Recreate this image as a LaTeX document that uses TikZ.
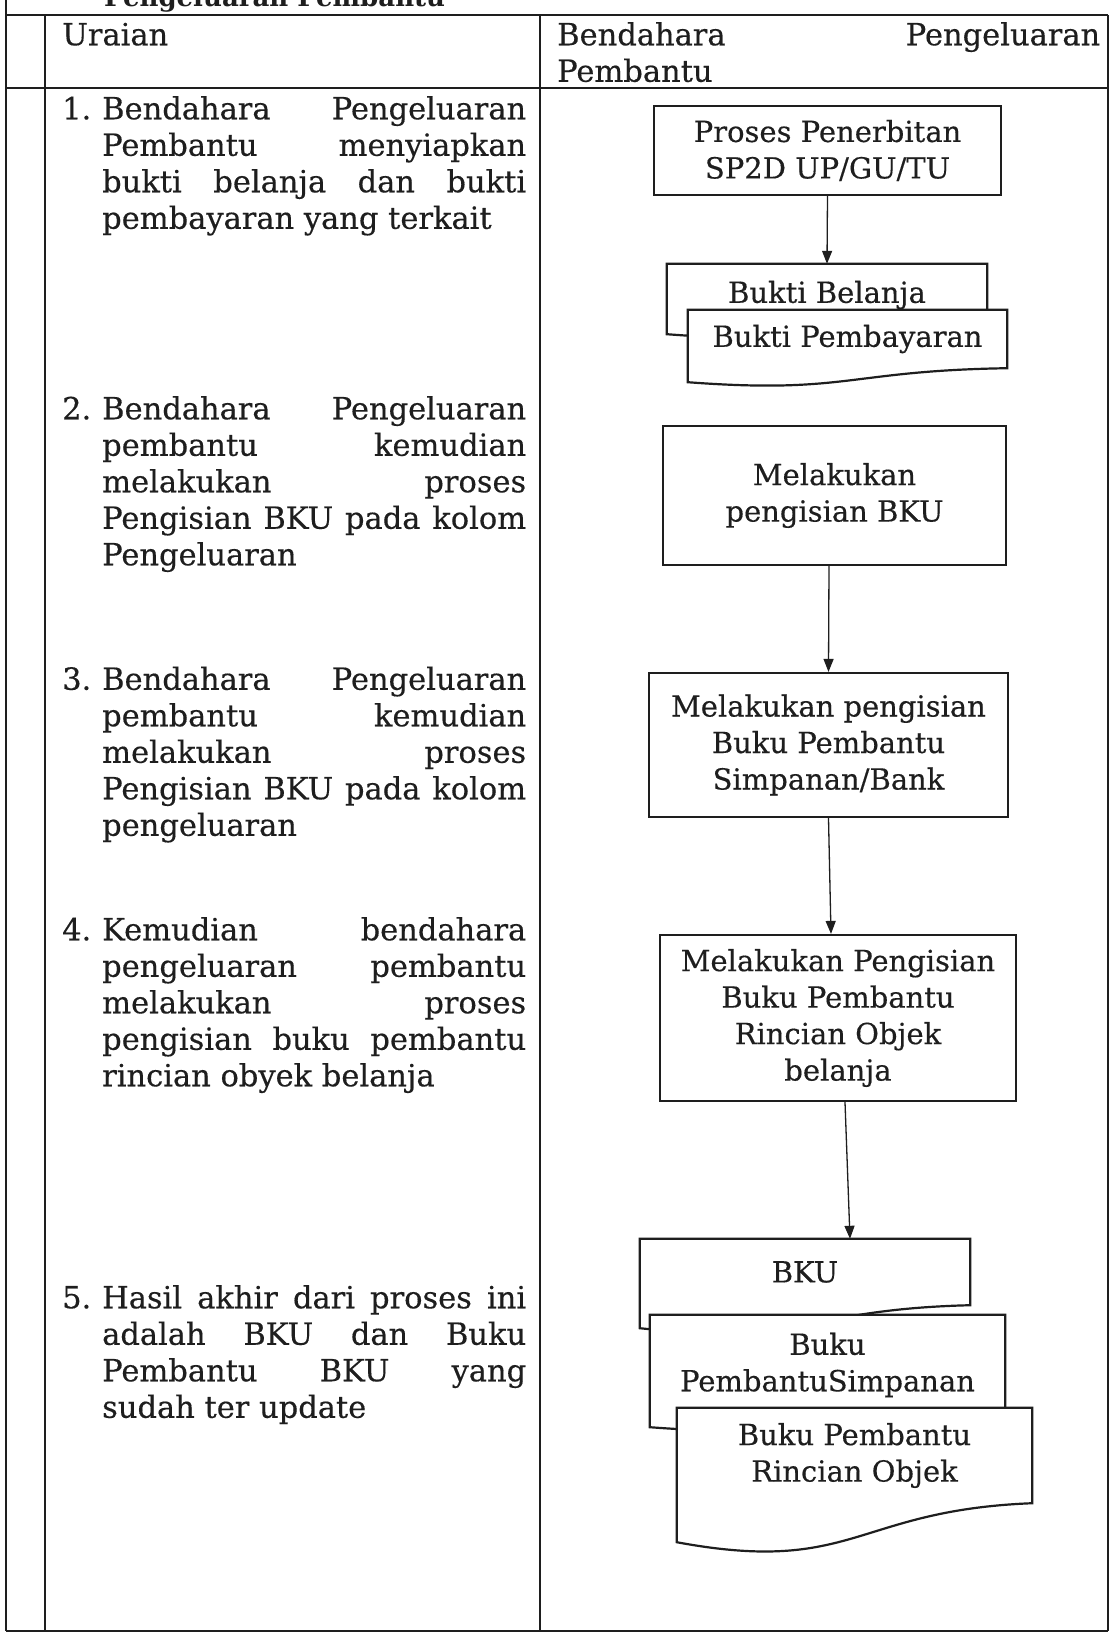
\documentclass[tikz,border=0pt]{standalone}
\usepackage{fontspec}
\setmainfont[UprightFeatures={FakeBold=0.35}]{DejaVu Serif}
\usetikzlibrary{arrows.meta}
\pgfdeclarelayer{background}
\pgfsetlayers{background,main}
\definecolor{ink}{RGB}{30,30,30}
\newcommand{\bodyfont}{\fontsize{30.5}{36.5}\selectfont}
\newcommand{\boxfont}{\fontsize{29}{36.5}\selectfont}
\newcommand{\JL}[1]{\makebox[424pt][s]{#1}}
\newcommand{\HJ}[1]{\makebox[543pt][s]{#1}}
\newcommand{\NUM}[1]{\makebox[40pt][l]{#1}}
\newcommand{\IND}{\hspace*{40pt}}
\newcommand{\docshape}[4]{%
  \draw[docline] (#1.north west) -- (#1.north east) -- (#1.south east)
    .. controls ([yshift=-#3]#1.south) and ([yshift=-#4]#1.south) ..
    ([yshift=-#2]#1.south west) -- cycle;}
\tikzset{
  tbl/.style={draw=ink, line width=1.6pt},
  proc/.style={draw=ink, line width=2.2pt, fill=white, inner sep=0pt, align=center, font=\boxfont, text=ink},
  docnode/.style={inner sep=0pt, align=center, font=\boxfont, text=ink},
  docline/.style={draw=ink, line width=2.2pt, fill=white},
  arr/.style={draw=ink, line width=1.3pt, -{Triangle[length=13pt,width=10pt]}},
  item/.style={inner sep=0pt, anchor=north west, align=left, font=\bodyfont, text=ink},
}
\begin{document}
\begin{tikzpicture}[x=1pt,y=-1pt]
\useasboundingbox (0,0) rectangle (1112,1634);
\begin{pgfonlayer}{background}
  \fill[white] (0,0) rectangle (1112,1634);
  % table
  \draw[tbl] (6,0) -- (6,1631);
  \draw[tbl] (6,15) -- (1108,15);
  \draw[tbl] (6,88) -- (1108,88);
  \draw[tbl] (6,1631) -- (1108,1631);
  \draw[tbl] (45,15) -- (45,1631);
  \draw[tbl] (540,15) -- (540,1631);
  \draw[tbl] (1108,15) -- (1108,1631);
\end{pgfonlayer}

% clipped heading
\node[anchor=base west, inner sep=0pt, font=\fontsize{26}{30}\selectfont\bfseries, text=ink] (ttl) at (104,6) {Pengeluaran Pembantu};

% header
\node[item] (h1) at (62,19.5) {\strut Uraian};
\node[item] (h2) at (557,19.5) {\strut\HJ{Bendahara Pengeluaran}\\ Pembantu};

% left column
\node[item] (u1) at (62,93.5) {\strut\NUM{1.}\JL{Bendahara Pengeluaran}\\
  \IND\JL{Pembantu menyiapkan}\\
  \IND\JL{bukti belanja dan bukti}\\
  \IND pembayaran yang terkait};
\node[item] (u2) at (62,393.5) {\strut\NUM{2.}\JL{Bendahara Pengeluaran}\\
  \IND\JL{pembantu kemudian}\\
  \IND\JL{melakukan proses}\\
  \IND\JL{Pengisian BKU pada kolom}\\
  \IND Pengeluaran};
\node[item] (u3) at (62,664) {\strut\NUM{3.}\JL{Bendahara Pengeluaran}\\
  \IND\JL{pembantu kemudian}\\
  \IND\JL{melakukan proses}\\
  \IND\JL{Pengisian BKU pada kolom}\\
  \IND pengeluaran};
\node[item] (u4) at (62,914.5) {\strut\NUM{4.}\JL{Kemudian bendahara}\\
  \IND\JL{pengeluaran pembantu}\\
  \IND\JL{melakukan proses}\\
  \IND\JL{pengisian buku pembantu}\\
  \IND rincian obyek belanja};
\node[item] (u5) at (62,1282.5) {\strut\NUM{5.}\JL{Hasil akhir dari proses ini}\\
  \IND\JL{adalah BKU dan Buku}\\
  \IND\JL{Pembantu BKU yang}\\
  \IND sudah ter update};

% process boxes
\node[proc, minimum width=347pt, minimum height=89pt] (b1) at (827.5,150.5) {Proses Penerbitan\\SP2D UP/GU/TU};
\node[proc, minimum width=343pt, minimum height=139pt] (b2) at (834.5,495.5) {Melakukan\\pengisian BKU};
\node[proc, minimum width=359pt, minimum height=144pt] (b3) at (828.5,745) {Melakukan pengisian\\Buku Pembantu\\Simpanan/Bank};
\node[proc, minimum width=356pt, minimum height=166pt] (b4) at (838,1018) {Melakukan Pengisian\\Buku Pembantu\\Rincian Objek\\belanja};

% documents
\node[docnode, minimum width=320pt, minimum height=62pt] (d1) at (827,295) {Bukti Belanja};
\node[docnode, minimum width=319pt, minimum height=58pt] (d2) at (847.5,339) {Bukti Pembayaran};
\node[docnode, minimum width=330pt, minimum height=66pt] (d4) at (805,1272) {BKU};
\node[docnode, minimum width=355pt, minimum height=100pt] (d5) at (827.5,1365) {Buku\\PembantuSimpanan};
\node[docnode, minimum width=355pt, minimum height=95pt] (d3) at (854.5,1455.5) {Buku Pembantu\\Rincian Objek};
\begin{pgfonlayer}{background}
  \docshape{d1}{8pt}{2pt}{20pt}
  \docshape{d2}{14pt}{2.5pt}{26pt}
  \docshape{d4}{23pt}{4pt}{40pt}
  \docshape{d5}{12pt}{3pt}{25pt}
  \docshape{d3}{39pt}{7pt}{72pt}
\end{pgfonlayer}

% connectors
\draw[arr] (b1.south) -- (d1.north);
\draw[arr] ([xshift=-5.5pt]b2.south) -- (b3.north);
\draw[arr] (b3.south) -- ([xshift=-7pt]b4.north);
\draw[arr] ([xshift=7pt]b4.south) -- ([xshift=45pt]d4.north);
\end{tikzpicture}
\end{document}
